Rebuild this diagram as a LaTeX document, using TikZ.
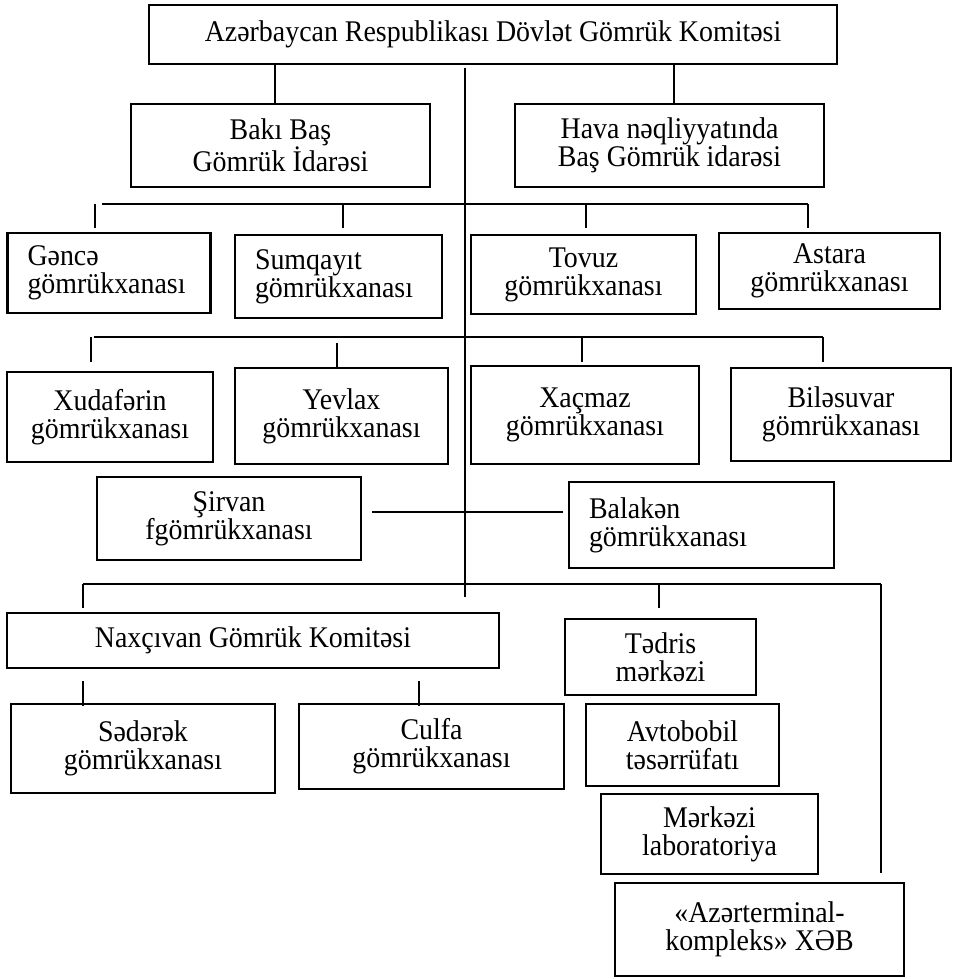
\documentclass[tikz,border=0pt]{standalone}
\usepackage{fontspec}
\setmainfont[FakeStretch=0.93]{Liberation Serif}
\usepackage{tikz}
\usetikzlibrary{calc}
\tikzset{
  unit/.style={draw, line width=2.2pt, align=center, inner sep=0pt,
    font=\fontsize{30}{28}\selectfont},
  unitL/.style={unit, align=left, inner xsep=20pt},
  link/.style={line width=1.8pt}
}

\begin{document}
\begin{tikzpicture}[x=1pt,y=-1pt]
\useasboundingbox (0,0) rectangle (953,979);

% head office and the two main offices
\node[unit, minimum width=688, minimum height=59] (dgk) at (493,34.5) {Azərbaycan Respublikası Dövlət Gömrük Komitəsi};
\node[unit, minimum width=299, minimum height=83] (baki) at (280.5,145.5) {Bakı Baş\\Gömrük İdarəsi};
\node[unit, minimum width=309, minimum height=83] (hava) at (669.5,145.5) {Hava nəqliyyatında\\Baş Gömrük idarəsi};
\draw[link] (dgk.south -| 275,0) -- (baki.north -| 275,0);
\draw[link] (dgk.south -| 674,0) -- (hava.north -| 674,0);

% trunk and buses
\coordinate (trunkTop) at (465,68);
\coordinate (trunkEnd) at (465,597);
\draw[link] (trunkTop) -- (trunkEnd);
\coordinate (busA) at (102,204);
\coordinate (busB) at (94,337);
\coordinate (busC) at (83,584);
\draw[link] (busA) -- (busA -| 808,0);
\draw[link] (busB) -- (busB -| 823,0);
\draw[link] (busC) -- (busC -| 881,0);

% first row
\node[unitL, text width=163, minimum height=80] (gence) at (109,273) {Gəncə\\gömrükxanası};
\node[unitL, text width=167, minimum height=83] (sumqayit) at (338.5,276.5) {Sumqayıt\\gömrükxanası};
\node[unit, minimum width=225, minimum height=79] (tovuz) at (583.5,274.5) {Tovuz\\gömrükxanası};
\node[unit, minimum width=221, minimum height=76] (astara) at (829.5,271) {Astara\\gömrükxanası};
\foreach \x in {95,343,586,808}
  \draw[link] (busA -| \x,0) -- ++(0,24);

% second row
\node[unit, minimum width=206, minimum height=90] (xudaferin) at (110,417) {Xudafərin\\gömrükxanası};
\node[unit, minimum width=213, minimum height=96] (yevlax) at (341.5,416) {Yevlax\\gömrükxanası};
\node[unit, minimum width=228, minimum height=98] (xacmaz) at (585,415) {Xaçmaz\\gömrükxanası};
\node[unit, minimum width=220, minimum height=93] (bilesuvar) at (841,414.5) {Biləsuvar\\gömrükxanası};
\draw[link] (busB -| 91,0) -- ++(0,25);
\draw[link] (busB -| 337,0) ++(0,6) -- ++(0,25);
\draw[link] (busB -| 582,0) -- ++(0,25);
\draw[link] (busB -| 823,0) -- ++(0,25);

% third row
\node[unit, minimum width=264, minimum height=83] (sirvan) at (229,518.5) {Şirvan\\fgömrükxanası};
\node[unitL, text width=225, minimum height=86] (balaken) at (701.5,525) {Balakən\\gömrükxanası};
\draw[link] ([xshift=10pt]sirvan.east |- 0,512) -- ([xshift=-5pt]balaken.west |- 0,512);

% Naxcivan and its offices
\node[unit, minimum width=492, minimum height=55] (naxcivan) at (253,640.5) {Naxçıvan Gömrük Komitəsi};
\node[unit, minimum width=264, minimum height=89] (sederek) at (143,748.5) {Sədərək\\gömrükxanası};
\node[unit, minimum width=265, minimum height=85] (culfa) at (431.5,746.5) {Culfa\\gömrükxanası};
\draw[link] (busC) -- ++(0,24);
\foreach \x in {83,419}
  \draw[link] (naxcivan.south -| \x,0) ++(0,12) -- ++(0,25);

% subordinate units
\node[unit, minimum width=191, minimum height=76] (tedris) at (660.5,657) {Tədris\\mərkəzi};
\node[unit, minimum width=193, minimum height=82] (avtobobil) at (682.5,745) {Avtobobil\\təsərrüfatı};
\node[unit, minimum width=217, minimum height=80] (merkezi) at (709.5,834) {Mərkəzi\\laboratoriya};
\node[unit, minimum width=289, minimum height=93] (azer) at (759.5,929.5) {«Azərterminal-\\kompleks» XƏB};
\draw[link] (busC -| 659,0) -- ++(0,24);
\coordinate (lineEnd) at (881,873);
\draw[link] (busC -| 881,0) -- (lineEnd);
\end{tikzpicture}
\end{document}
